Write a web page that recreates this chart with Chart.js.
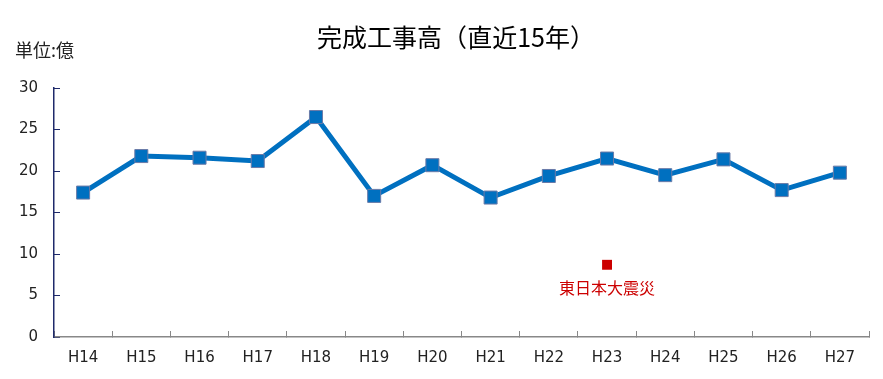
<!DOCTYPE html>
<html><head><meta charset="utf-8">
<script src="https://cdn.jsdelivr.net/npm/chart.js@4/dist/chart.umd.min.js"></script>
<style>html,body{margin:0;padding:0;background:#fff}#wrap{width:883px;height:379px}</style>
</head><body><div id="wrap"><canvas id="c" width="883" height="379"></canvas></div>
<script>
const categories = ["H14","H15","H16","H17","H18","H19","H20","H21","H22","H23","H24","H25","H26","H27"];
const salesValues = [17.4,21.8,21.6,21.2,26.5,17.0,20.7,16.8,19.4,21.5,19.5,21.4,17.7,19.8];
const eventValues = [null,null,null,null,null,null,null,null,null,8.7,null,null,null,null];
const eventLabel = "東日本大震災";
const yTicks = [0,5,10,15,20,25,30];
const titleText = "完成工事高（直近15年）";
const unitText = "単位:億";

const jp = '"Noto Sans CJK JP", "Noto Sans", sans-serif';

const overlay = {
  id: 'overlay',
  afterDraw(chart) {
    const ctx = chart.ctx;
    ctx.save();
    ctx.fillStyle = '#000';
    ctx.font = '25px ' + jp;
    ctx.textAlign = 'center';
    ctx.textBaseline = 'middle';
    ctx.fillText(titleText, 456, 37);
    ctx.font = '18px ' + jp;
    ctx.textAlign = 'left';
    ctx.fillStyle = '#222';
    ctx.fillText(unitText, 15, 50);
    const meta = chart.getDatasetMeta(1);
    meta.data.forEach((pt, i) => {
      if (eventValues[i] == null) return;
      ctx.font = '16px ' + jp;
      ctx.fillStyle = '#CC0000';
      ctx.textAlign = 'center';
      ctx.fillText(eventLabel, pt.x, pt.y + 23);
    });
    ctx.restore();
  }
};

new Chart(document.getElementById('c'), {
  type: 'line',
  data: {
    labels: categories,
    datasets: [{
      data: salesValues,
      borderColor: '#0070C0',
      borderWidth: 5,
      pointStyle: 'rect',
      pointRadius: 9.2,
      pointBackgroundColor: '#0070C0',
      pointBorderColor: '#6A7BA8',
      pointBorderWidth: 1,
      tension: 0,
      order: 1
    },{
      data: eventValues,
      showLine: false,
      pointStyle: 'rect',
      pointRadius: 7,
      pointBackgroundColor: '#CC0000',
      pointBorderColor: '#CC0000',
      pointBorderWidth: 0,
      order: 2
    }]
  },
  options: {
    responsive: false,
    animation: false,
    events: [],
    layout: { padding: { top: 88, right: 14, left: 0, bottom: 0 } },
    plugins: { legend: { display: false }, title: { display: false }, tooltip: { enabled: false } },
    scales: {
      x: {
        offset: true,
        grid: { display: true, drawOnChartArea: false, offset: true, tickLength: -6, color: '#888', tickColor: '#888' },
        border: { color: '#888', width: 1.5 },
        ticks: { color: '#222', font: { family: '"DejaVu Sans"', size: 15 }, padding: 18 },
        afterFit(s) { s.height = 42; }
      },
      y: {
        min: 0, max: 30,
        afterBuildTicks(s) { s.ticks = yTicks.map(v => ({ value: v })); },
        grid: { display: true, drawOnChartArea: false, tickLength: -6, color: '#1F2A6B', tickColor: '#1F2A6B' },
        border: { color: '#1F2A6B', width: 1.5 },
        ticks: { color: '#222', font: { family: '"DejaVu Sans"', size: 15 }, padding: 22 },
        afterFit(s) { s.width = 54; }
      }
    }
  },
  plugins: [overlay]
});
</script>
</body></html>
